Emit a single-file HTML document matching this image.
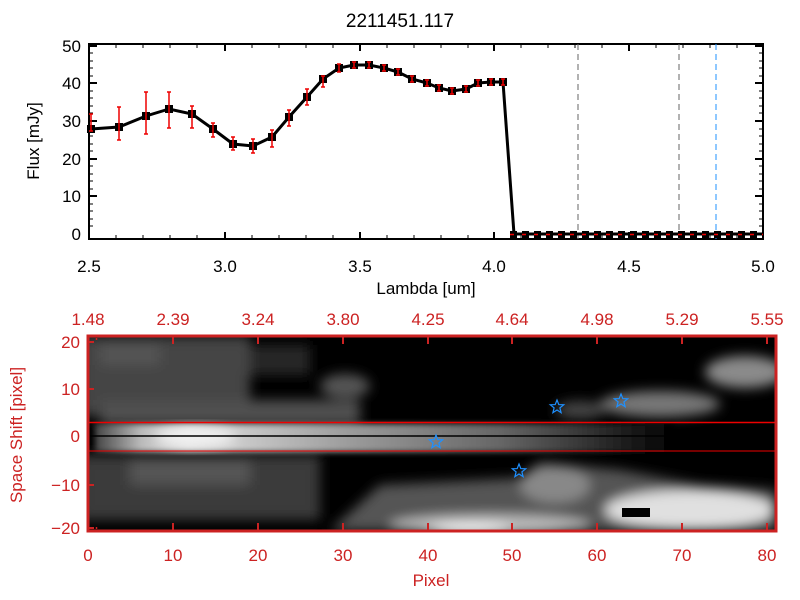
<!DOCTYPE html>
<html><head><meta charset="utf-8"><style>
body{margin:0;background:#fff;}
svg{display:block;font-family:"Liberation Sans",sans-serif;}
</style></head><body>
<svg width="800" height="600" viewBox="0 0 800 600" xmlns="http://www.w3.org/2000/svg">
<defs>
<filter id="b6" x="-50%" y="-50%" width="200%" height="200%"><feGaussianBlur stdDeviation="6"/></filter>
<filter id="b3" x="-50%" y="-50%" width="200%" height="200%"><feGaussianBlur stdDeviation="3"/></filter>
<clipPath id="cl"><rect x="88" y="336" width="688" height="195"/></clipPath>
<linearGradient id="band" x1="0" x2="1" y1="0" y2="0">
<stop offset="0" stop-color="#444"/><stop offset="0.08" stop-color="#bbb"/><stop offset="0.16" stop-color="#e0e0e0"/>
<stop offset="0.45" stop-color="#999"/><stop offset="0.7" stop-color="#666"/><stop offset="0.85" stop-color="#333"/><stop offset="1" stop-color="#000"/>
</linearGradient>
</defs>
<text x="400" y="27" font-size="19" text-anchor="middle">2211451.117</text>
<!-- top plot -->
<g stroke="#000" fill="none">
<rect x="89" y="44" width="674" height="195" stroke-width="2"/>
<path stroke-width="1" d="M116 44v4M143 44v4M170 44v4M197 44v4M252 44v4M279 44v4M306 44v4M333 44v4M387 44v4M414 44v4M441 44v4M468 44v4M521 44v4M548 44v4M575 44v4M602 44v4M656 44v4M683 44v4M710 44v4M737 44v4
M116 239v-4M143 239v-4M170 239v-4M197 239v-4M252 239v-4M279 239v-4M306 239v-4M333 239v-4M387 239v-4M414 239v-4M441 239v-4M468 239v-4M521 239v-4M548 239v-4M575 239v-4M602 239v-4M656 239v-4M683 239v-4M710 239v-4M737 239v-4"/>
<path stroke-width="2" d="M225 44v7M360 44v7M494 44v7M629 44v7M225 239v-7M360 239v-7M494 239v-7M629 239v-7
M89 196h8M89 159h8M89 121h8M89 83h8M89 46h8M763 196h-8M763 159h-8M763 121h-8M763 83h-8M763 46h-8"/>
<path stroke-width="1" d="M89 226h4M89 219h4M89 211h4M89 204h4M89 189h4M89 181h4M89 174h4M89 166h4M89 151h4M89 144h4M89 136h4M89 129h4M89 113h4M89 106h4M89 98h4M89 91h4M89 76h4M89 68h4M89 61h4M89 53h4
M763 226h-4M763 219h-4M763 211h-4M763 204h-4M763 189h-4M763 181h-4M763 174h-4M763 166h-4M763 151h-4M763 144h-4M763 136h-4M763 129h-4M763 113h-4M763 106h-4M763 98h-4M763 91h-4M763 76h-4M763 68h-4M763 61h-4M763 53h-4"/>
</g>
<g stroke-dasharray="6,4" stroke-width="1">
<line x1="578" y1="44" x2="578" y2="239" stroke="#666"/>
<line x1="679" y1="44" x2="679" y2="239" stroke="#666"/>
<line x1="716" y1="44" x2="716" y2="239" stroke="#1e90ff"/>
</g>
<polyline fill="none" stroke="#000" stroke-width="3" points="91,129 119,127 146,116 169,109 192,114 213,129 233,144 253,146 272,137 289,117 307,97 323,79 339,68 354,65 369,65 384,68 398,72 412,79 427,83 439,88 452,91 466,89 478,83 491,82 503,82 514,234 763,234"/>
<g fill="#000">
<rect x="87" y="125" width="8" height="8"/><rect x="115" y="123" width="8" height="8"/><rect x="142" y="112" width="8" height="8"/><rect x="165" y="105" width="8" height="8"/><rect x="188" y="110" width="8" height="8"/><rect x="209" y="125" width="8" height="8"/><rect x="229" y="140" width="8" height="8"/><rect x="249" y="142" width="8" height="8"/><rect x="268" y="133" width="8" height="8"/><rect x="285" y="113" width="8" height="8"/><rect x="303" y="93" width="8" height="8"/><rect x="319" y="75" width="8" height="8"/><rect x="335" y="64" width="8" height="8"/><rect x="350" y="61" width="8" height="8"/><rect x="365" y="61" width="8" height="8"/><rect x="380" y="64" width="8" height="8"/><rect x="394" y="68" width="8" height="8"/><rect x="408" y="75" width="8" height="8"/><rect x="423" y="79" width="8" height="8"/><rect x="435" y="84" width="8" height="8"/><rect x="448" y="87" width="8" height="8"/><rect x="462" y="85" width="8" height="8"/><rect x="474" y="79" width="8" height="8"/><rect x="487" y="78" width="8" height="8"/><rect x="499" y="78" width="8" height="8"/>
<rect x="510" y="231" width="7" height="7"/><rect x="522" y="231" width="7" height="7"/><rect x="534" y="231" width="7" height="7"/><rect x="546" y="231" width="7" height="7"/><rect x="558" y="231" width="7" height="7"/><rect x="570" y="231" width="7" height="7"/><rect x="582" y="231" width="7" height="7"/><rect x="594" y="231" width="7" height="7"/><rect x="606" y="231" width="7" height="7"/><rect x="618" y="231" width="7" height="7"/><rect x="630" y="231" width="7" height="7"/><rect x="642" y="231" width="7" height="7"/><rect x="654" y="231" width="7" height="7"/><rect x="666" y="231" width="7" height="7"/><rect x="678" y="231" width="7" height="7"/><rect x="690" y="231" width="7" height="7"/><rect x="702" y="231" width="7" height="7"/><rect x="714" y="231" width="7" height="7"/><rect x="726" y="231" width="7" height="7"/><rect x="738" y="231" width="7" height="7"/><rect x="750" y="231" width="7" height="7"/>
</g>
<line x1="510" y1="234.5" x2="763" y2="234.5" stroke="#e00" stroke-width="1.5" stroke-dasharray="4,8"/>
<g stroke="#e00" stroke-width="1.5" fill="none">
<path d="M91 114v17M89 114h4M89 131h4 M119 107v33M117 107h4M117 140h4 M146 92v42M144 92h4M144 134h4 M169 92v36M167 92h4M167 128h4 M192 106v22M190 106h4M190 128h4 M213 123v14M211 123h4M211 137h4 M233 137v13M231 137h4M231 150h4 M253 139v14M251 139h4M251 153h4 M272 130v17M270 130h4M270 147h4 M289 110v16M287 110h4M287 126h4 M307 89v16M305 89h4M305 105h4 M323 76v11M321 76h4M321 87h4"/>
<path d="M339 64v8M337 64h4M337 72h4 M354 62v6M352 62h4M352 68h4 M369 62v6M367 62h4M367 68h4 M384 65v6M382 65h4M382 71h4 M398 69v6M396 69h4M396 75h4 M412 76v6M410 76h4M410 82h4 M427 80v6M425 80h4M425 86h4 M439 85v6M437 85h4M437 91h4 M452 88v6M450 88h4M450 94h4 M466 86v6M464 86h4M464 92h4 M478 80v6M476 80h4M476 86h4 M491 79v6M489 79h4M489 85h4 M503 79v6M501 79h4M501 85h4"/>
</g>
<g font-size="17" text-anchor="middle">
<text x="89" y="272">2.5</text><text x="225" y="272">3.0</text><text x="360" y="272">3.5</text><text x="494" y="272">4.0</text><text x="629" y="272">4.5</text><text x="763" y="272">5.0</text>
<text x="426" y="294">Lambda [um]</text>
</g>
<g font-size="17" text-anchor="end">
<text x="81" y="240">0</text><text x="81" y="202">10</text><text x="81" y="165">20</text><text x="81" y="127">30</text><text x="81" y="89">40</text><text x="81" y="52">50</text>
</g>
<text transform="translate(39,141) rotate(-90)" font-size="17" text-anchor="middle">Flux [mJy]</text>

<!-- bottom image -->
<g clip-path="url(#cl)">
<rect x="88" y="336" width="688" height="195" fill="#000"/>
<g filter="url(#b6)">
<rect x="80" y="336" width="170" height="80" fill="#444"/>
<rect x="100" y="345" width="60" height="20" fill="#555"/>
<rect x="250" y="345" width="60" height="30" fill="#262626"/>
<rect x="100" y="400" width="260" height="25" fill="#505050"/>
<rect x="80" y="455" width="240" height="65" fill="#3a3a3a"/>
<rect x="130" y="460" width="120" height="25" fill="#555"/>
<ellipse cx="345" cy="386" rx="25" ry="12" fill="#555"/>
<ellipse cx="745" cy="372" rx="40" ry="16" fill="#8a8a8a"/>
<ellipse cx="660" cy="404" rx="60" ry="13" fill="#777"/>
<ellipse cx="580" cy="410" rx="25" ry="9" fill="#444"/>
<path d="M330 531 L380 485 L520 478 L540 462 L620 470 L700 485 L776 490 L776 531 Z" fill="#555"/>
<ellipse cx="555" cy="485" rx="35" ry="18" fill="#888"/>
<ellipse cx="690" cy="510" rx="85" ry="20" fill="#e0e0e0"/>
<ellipse cx="490" cy="525" rx="100" ry="10" fill="#bbb"/>
<ellipse cx="470" cy="530" rx="40" ry="6" fill="#f5f5f5"/>
</g>
<rect x="95" y="424" width="580" height="28" fill="url(#band)" filter="url(#b3)"/>
<ellipse cx="195" cy="437" rx="40" ry="9" fill="#f2f2f2" filter="url(#b6)"/>
<rect x="622" y="508" width="28" height="9" fill="#000"/>
<line x1="88" y1="436" x2="776" y2="436" stroke="#000" stroke-width="1.5"/>
<line x1="88" y1="422.5" x2="776" y2="422.5" stroke="#e00" stroke-width="1.5"/>
<line x1="88" y1="451" x2="776" y2="451" stroke="#e00" stroke-width="1"/>
</g>
<g fill="none" stroke="#1e90ff" stroke-width="1.2">
<polygon transform="translate(436,442)" points="0,-7 1.8,-2.4 6.7,-2.2 2.9,0.9 4.1,5.7 0,3 -4.1,5.7 -2.9,0.9 -6.7,-2.2 -1.8,-2.4"/>
<polygon transform="translate(557,407)" points="0,-7 1.8,-2.4 6.7,-2.2 2.9,0.9 4.1,5.7 0,3 -4.1,5.7 -2.9,0.9 -6.7,-2.2 -1.8,-2.4"/>
<polygon transform="translate(621,401)" points="0,-7 1.8,-2.4 6.7,-2.2 2.9,0.9 4.1,5.7 0,3 -4.1,5.7 -2.9,0.9 -6.7,-2.2 -1.8,-2.4"/>
<polygon transform="translate(519,471)" points="0,-7 1.8,-2.4 6.7,-2.2 2.9,0.9 4.1,5.7 0,3 -4.1,5.7 -2.9,0.9 -6.7,-2.2 -1.8,-2.4"/>
</g>
<g stroke="#cc2222" fill="none">
<rect x="88" y="336" width="688" height="195" stroke-width="3"/>
<path stroke-width="2" d="M173 336v8M258 336v8M343 336v8M428 336v8M512 336v8M597 336v8M682 336v8M767 336v8M173 531v-8M258 531v-8M343 531v-8M428 531v-8M512 531v-8M597 531v-8M682 531v-8M767 531v-8
M88 342h6M88 389h6M88 485h6M88 528h6"/>
<path stroke-width="1.5" stroke-dasharray="2,6.5" d="M96.5 338v4M96.5 529v-4"/>
</g>
<g fill="#cc2222" font-size="17" text-anchor="middle">
<text x="88" y="561">0</text><text x="173" y="561">10</text><text x="258" y="561">20</text><text x="343" y="561">30</text><text x="428" y="561">40</text><text x="512" y="561">50</text><text x="597" y="561">60</text><text x="682" y="561">70</text><text x="767" y="561">80</text>
<text x="88" y="325">1.48</text><text x="173" y="325">2.39</text><text x="258" y="325">3.24</text><text x="343" y="325">3.80</text><text x="428" y="325">4.25</text><text x="512" y="325">4.64</text><text x="597" y="325">4.98</text><text x="682" y="325">5.29</text><text x="767" y="325">5.55</text>
<text x="431" y="586">Pixel</text>
</g>
<g fill="#cc2222" font-size="17" text-anchor="end">
<text x="80" y="348">20</text><text x="80" y="395">10</text><text x="80" y="442">0</text><text x="80" y="491">−10</text><text x="80" y="534">−20</text>
</g>
<text transform="translate(22,435) rotate(-90)" fill="#cc2222" font-size="17" text-anchor="middle">Space Shift [pixel]</text>
</svg>
</body></html>
